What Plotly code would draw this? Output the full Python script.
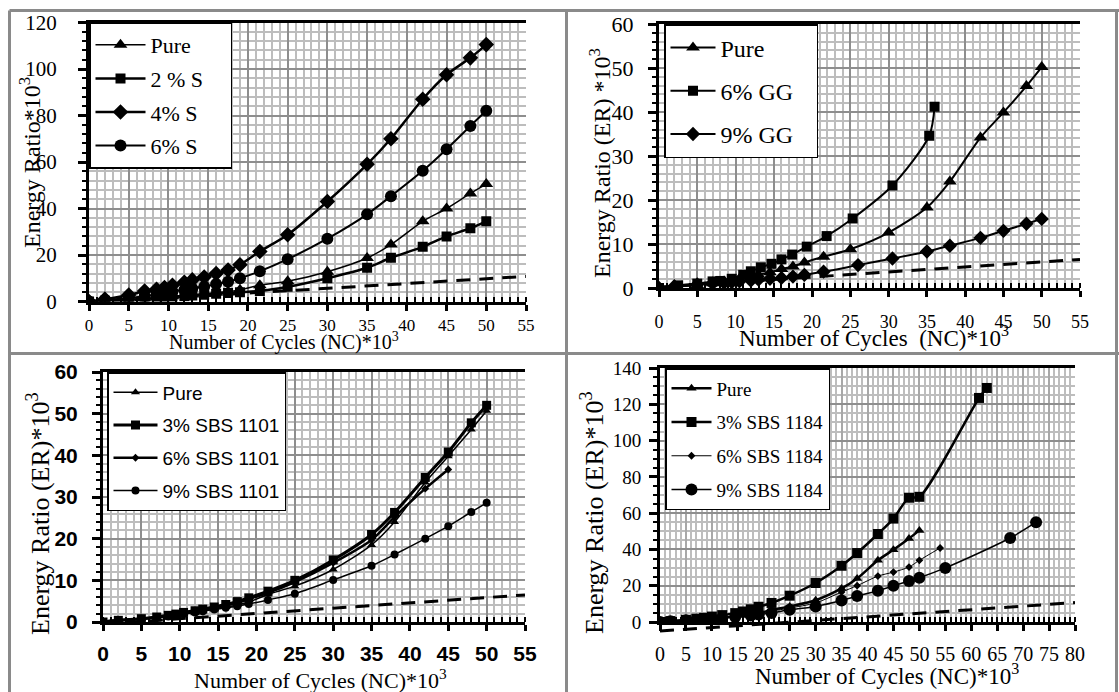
import plotly.graph_objects as go

W, H = 1119, 692
SERIF = "Liberation Serif, Times New Roman, serif"
SANS_N = "Liberation Sans Narrow, Liberation Sans, Arial, sans-serif"
SANS = "Liberation Sans, Arial, sans-serif"
PAD = "\u00a0"

# ---------------- data ----------------
# Panel 1 : Sulfur
p1_x = [0, 2, 5, 7, 8.5, 9.5, 10.5, 12, 13, 14.5, 16, 17.5, 19, 21.5, 25, 30, 35, 38, 42, 45, 48, 50]
p1_pure = [0, 0.3, 0.8, 1.3, 1.7, 2.0, 2.3, 2.7, 3.0, 3.3, 3.8, 4.3, 5.0, 7.0, 8.7, 12.8, 18.7, 24.5, 34.5, 40.0, 46.5, 50.5]
p1_s2 = [0, 0.3, 0.7, 1.1, 1.4, 1.7, 2.0, 2.3, 2.6, 2.9, 3.3, 3.7, 4.0, 4.5, 6.3, 10.0, 14.5, 18.8, 23.5, 28.0, 31.5, 34.5]
p1_s4 = [0, 1.0, 2.8, 4.5, 5.3, 6.0, 7.0, 8.3, 9.3, 10.5, 12.0, 13.5, 15.8, 21.5, 28.7, 43.0, 59.0, 70.0, 87.0, 97.5, 104.8, 110.5]
p1_s6 = [0, 0.6, 1.5, 2.3, 3.0, 3.6, 4.3, 5.0, 5.6, 6.4, 7.5, 8.5, 10.0, 13.0, 18.2, 27.0, 37.5, 45.3, 56.2, 65.5, 75.5, 82.0]
p1_trend_x = [0, 55]
p1_trend_y = [-0.5, 10.8]

# Panel 2 : Guar gum
p2_x = [0, 2, 5, 7, 8.5, 9.5, 10.5, 12, 13, 14.5, 16, 17.5, 19, 21.5, 25, 30, 35, 38, 42, 45, 48, 50]
p2_pure = [0, 0.3, 0.7, 1.1, 1.4, 1.7, 2.1, 2.6, 3.0, 3.6, 4.3, 4.9, 5.8, 7.1, 8.8, 12.6, 18.3, 24.2, 34.2, 39.9, 45.9, 50.2]
p2_gg6_x = [0, 2.5, 5, 7, 8, 9.5, 11, 12, 13.3, 14.7, 16, 17.4, 19.3, 21.9, 25.3, 30.5, 35.3, 36]
p2_gg6 = [0, 0.6, 1.0, 1.5, 1.6, 2.1, 3.0, 3.8, 4.7, 5.5, 6.5, 7.6, 9.4, 11.8, 15.8, 23.3, 34.6, 41.2]
p2_gg9_x = [0, 2, 5, 7, 8.5, 9.5, 10.5, 12, 13, 14.5, 16, 17.5, 19, 21.5, 26, 30.5, 35, 38, 42, 45, 48, 50]
p2_gg9 = [0, 0.4, 0.8, 1.0, 1.2, 1.3, 1.5, 1.7, 1.9, 2.1, 2.3, 2.6, 3.0, 3.7, 5.2, 6.7, 8.3, 9.6, 11.4, 13.0, 14.6, 15.7]
p2_trend_x = [0, 55]
p2_trend_y = [0.2, 6.5]

# Panel 3 : SBS 1101
p3_x = [0, 2, 5, 7, 8.5, 9.5, 10.5, 12, 13, 14.5, 16, 17.5, 19, 21.5, 25, 30, 35, 38, 42, 45, 48, 50]
p3_pure = [0, 0.3, 0.7, 1.1, 1.4, 1.7, 2.0, 2.4, 2.8, 3.2, 3.6, 4.1, 4.8, 6.6, 8.6, 12.6, 18.5, 24.0, 33.5, 39.8, 46.2, 50.7]
p3_sbs3 = [0, 0.4, 0.8, 1.2, 1.6, 1.9, 2.3, 2.7, 3.1, 3.6, 4.2, 4.9, 5.8, 7.4, 10.0, 14.9, 21.0, 26.3, 34.7, 40.8, 47.8, 52.0]
p3_sbs6_x = [0, 2, 5, 7, 8.5, 9.5, 10.5, 12, 13, 14.5, 16, 17.5, 19, 21.5, 25, 30, 35, 38, 42, 45]
p3_sbs6 = [0, 0.4, 0.8, 1.2, 1.5, 1.8, 2.2, 2.6, 3.0, 3.5, 4.0, 4.6, 5.5, 7.0, 9.6, 14.2, 19.7, 25.2, 32.0, 36.6]
p3_sbs9 = [0, 0.3, 0.7, 1.0, 1.3, 1.6, 1.9, 2.3, 2.6, 3.0, 3.4, 3.8, 4.3, 5.3, 6.8, 10.1, 13.5, 16.2, 20.0, 23.0, 26.4, 28.6]
p3_trend_x = [0, 55]
p3_trend_y = [-0.5, 6.5]

# Panel 4 : SBS 1184
p4_pure_x = [0, 2, 5, 7, 8.5, 10, 12, 14.5, 16, 17.5, 19, 21.5, 25, 30, 35, 38, 42, 45, 48, 50]
p4_pure = [0, 0.3, 0.7, 1.1, 1.4, 1.9, 2.4, 3.2, 3.6, 4.1, 4.8, 6.6, 8.6, 12.0, 18.5, 24.0, 34.0, 39.8, 46.0, 50.5]
p4_sbs3_x = [0, 2, 5, 7, 8.5, 10, 12, 14.5, 16, 17.5, 19, 21.5, 25, 30, 35, 38, 42, 45, 48, 50, 61.5, 63]
p4_sbs3 = [0, 0.5, 1.2, 1.8, 2.3, 3.0, 3.8, 4.9, 5.8, 7.0, 8.4, 10.5, 14.5, 21.5, 31.0, 38.0, 48.5, 57.0, 68.5, 69.0, 123.5, 129.0]
p4_sbs6_x = [0, 2, 5, 7, 10, 12, 14.5, 17.5, 19, 21.5, 25, 30, 35, 38, 42, 45, 48, 50, 54]
p4_sbs6 = [0, 0.4, 1.0, 1.4, 2.0, 2.5, 3.5, 4.5, 5.0, 6.0, 7.7, 10.5, 16.5, 20.0, 25.3, 27.5, 30.3, 34.0, 40.8]
p4_sbs9_x = [0, 2, 5, 7, 10, 12, 14.5, 17.5, 19, 21.5, 25, 30, 35, 38, 42, 45, 48, 50, 55, 67.5, 72.5]
p4_sbs9 = [0, 0.4, 0.9, 1.3, 1.8, 2.2, 2.8, 3.6, 4.1, 5.0, 6.7, 8.6, 11.8, 14.3, 17.2, 20.0, 22.6, 24.4, 29.8, 46.3, 55.0]
p4_trend_x = [0, 80]
p4_trend_y = [-5.0, 10.7]

# ---------------- layout helpers (pixel geometry) ----------------
def xd(a, b):
    return [a / W, b / W]

def yd(top, bottom):
    return [1 - bottom / H, 1 - top / H]

MAJOR_GRID = "#8e8e8e"
MINOR_GRID = "#bdbdbd"

def xaxis(dom, rng, dtick, minor, font, anchor, standoff, gridcolor=MAJOR_GRID):
    return dict(domain=dom, range=rng, dtick=dtick, tick0=0, showgrid=True,
                gridcolor=gridcolor, gridwidth=1.5, zeroline=False, anchor=anchor,
                showline=True, linecolor="black", linewidth=3, mirror=True,
                ticks="outside", ticklen=6, tickwidth=3, tickcolor="black", tickangle=0,
                ticklabelstandoff=standoff, tickfont=font, automargin=False,
                minor=dict(dtick=minor, showgrid=True, gridcolor=MINOR_GRID, gridwidth=1.5,
                           ticks="inside", ticklen=5, tickwidth=2, tickcolor="black"),
                fixedrange=True)

def yaxis(dom, rng, dtick, minor, font, anchor, standoff):
    return dict(domain=dom, range=rng, dtick=dtick, tick0=0, showgrid=True,
                gridcolor=MAJOR_GRID, gridwidth=1.5, zeroline=False,
                showline=True, linecolor="black", linewidth=3, mirror=False,
                ticks="outside", ticklen=8, tickwidth=3, tickcolor="black",
                ticklabelstandoff=standoff, tickfont=font, anchor=anchor, automargin=False,
                minor=dict(dtick=minor, showgrid=True, gridcolor=MINOR_GRID, gridwidth=1.5,
                           ticks="outside", ticklen=4, tickwidth=2, tickcolor="black"),
                fixedrange=True)

fig = go.Figure()

def series(x, y, name, sym, size, lw, xa, ya, leg, pad=0):
    fig.add_trace(go.Scatter(
        x=x, y=y, name=name + PAD * pad, mode="lines+markers", xaxis=xa, yaxis=ya,
        legend=leg, legendgroup=leg + name,
        line=dict(color="black", width=lw, shape="spline", smoothing=0.8),
        marker=dict(symbol=sym, size=size, color="black")))

def trend(x, y, xa, ya):
    fig.add_trace(go.Scatter(
        x=x, y=y, mode="lines", xaxis=xa, yaxis=ya, showlegend=False,
        line=dict(color="black", width=3, dash="14px,9px"), hoverinfo="skip"))

# panel 1
trend(p1_trend_x, p1_trend_y, "x", "y")
series(p1_x, p1_pure, "Pure", "triangle-up", 12, 1.5, "x", "y", "legend")
series(p1_x, p1_s2, "2 % S", "square", 10, 2.5, "x", "y", "legend", pad=4)
series(p1_x, p1_s4, "4% S", "diamond", 12, 2.5, "x", "y", "legend")
series(p1_x, p1_s6, "6% S", "circle", 12, 2, "x", "y", "legend")

# panel 2
trend(p2_trend_x, p2_trend_y, "x2", "y2")
series(p2_x, p2_pure, "Pure", "triangle-up", 12, 2, "x2", "y2", "legend2")
series(p2_gg6_x, p2_gg6, "6% GG", "square", 10, 2, "x2", "y2", "legend2", pad=3)
series(p2_gg9_x, p2_gg9, "9% GG", "diamond", 11, 2, "x2", "y2", "legend2")

# panel 3
trend(p3_trend_x, p3_trend_y, "x3", "y3")
series(p3_x, p3_pure, "Pure", "triangle-up", 8, 1.5, "x3", "y3", "legend3")
series(p3_x, p3_sbs3, "3% SBS 1101", "square", 9, 3, "x3", "y3", "legend3")
series(p3_sbs6_x, p3_sbs6, "6% SBS 1101", "diamond", 6, 2.5, "x3", "y3", "legend3")
series(p3_x, p3_sbs9, "9% SBS 1101", "circle", 8, 1.5, "x3", "y3", "legend3")

# panel 4
series(p4_pure_x, p4_pure, "Pure", "triangle-up", 9, 2.5, "x4", "y4", "legend4")
series(p4_sbs3_x, p4_sbs3, "3% SBS 1184", "square", 10, 2.5, "x4", "y4", "legend4")
series(p4_sbs6_x, p4_sbs6, "6% SBS 1184", "diamond", 6, 1, "x4", "y4", "legend4")
series(p4_sbs9_x, p4_sbs9, "9% SBS 1184", "circle", 12, 1.5, "x4", "y4", "legend4")
trend(p4_trend_x, p4_trend_y, "x5", "y5")

f_serif = lambda s: dict(family=SERIF, size=s, color="black")
f_bold = lambda s: dict(family=SANS, size=s, color="black", weight="bold")

# pixel geometry of plot areas
P1 = dict(l=89, r=526, t=22.5, b=301.5)
P2 = dict(l=659, r=1080, t=24, b=288)
P3 = dict(l=103, r=525, t=372, b=622)
P4 = dict(l=660, r=1075, t=368, b=622)
P5_bottom = 640
y5_low = -140 * (P5_bottom - P4["b"]) / (P4["b"] - P4["t"])

fig.update_layout(
    width=W, height=H, margin=dict(l=0, r=0, t=0, b=0, autoexpand=False),
    paper_bgcolor="white", plot_bgcolor="rgba(0,0,0,0)", showlegend=True,
    xaxis=xaxis(xd(P1["l"], P1["r"]), [0, 55], 5, 1, f_serif(17), "y", 0),
    yaxis=yaxis(yd(P1["t"], P1["b"]), [0, 120], 20, 4, f_serif(21), "x", 17),
    xaxis2=xaxis(xd(P2["l"], P2["r"]), [0, 55], 5, 1, f_serif(18), "y2", 9),
    yaxis2=yaxis(yd(P2["t"], P2["b"]), [0, 60], 10, 2, f_serif(22), "x2", 10),
    xaxis3=xaxis(xd(P3["l"], P3["r"]), [0, 55], 5, 1, f_bold(21), "y3", 5),
    yaxis3=yaxis(yd(P3["t"], P3["b"]), [0, 60], 10, 2, f_bold(21), "x3", 10),
    xaxis4=xaxis(xd(P4["l"], P4["r"]), [0, 80], 5, 1, f_serif(20), "y4", 6, gridcolor="#a8a8a8"),
    yaxis4=yaxis(yd(P4["t"], P4["b"]), [0, 140], 20, 5, f_serif(19), "x4", 4),
    # darker vertical grid every 15 units in panel 4
    xaxis6=dict(overlaying="x4", anchor="y4", range=[0, 80], dtick=15, tick0=0,
                showgrid=True, gridcolor=MAJOR_GRID, gridwidth=2, showticklabels=False,
                ticks="", showline=False, zeroline=False, fixedrange=True),
    xaxis5=dict(domain=xd(P4["l"], P4["r"]), range=[0, 80], visible=False, anchor="y5", fixedrange=True),
    yaxis5=dict(domain=yd(P4["t"], P5_bottom), range=[y5_low, 140], visible=False, anchor="x5", fixedrange=True),
)

def legend(px, py, font, gap, iw):
    return dict(x=px / W, y=1 - py / H, xanchor="left", yanchor="top",
                bgcolor="white", bordercolor="black", borderwidth=1.5,
                font=font, tracegroupgap=gap, itemsizing="trace", itemwidth=iw)

fig.update_layout(
    legend=legend(89, 22.5, f_serif(22), 2, 50),
    legend2=legend(664, 24, f_serif(24), 9, 45),
    legend3=legend(107, 372, dict(family=SANS_N, size=19, color="black"), 5, 44),
    legend4=legend(665, 368, f_serif(19), 6, 40),
)

ann = []
def title_x(text, cx, cy, size):
    ann.append(dict(text=text, x=cx / W, y=1 - cy / H, xref="paper", yref="paper",
                    showarrow=False, font=f_serif(size), xanchor="center", yanchor="middle"))

def title_y(text, cx, cy, size):
    ann.append(dict(text=text, x=cx / W, y=1 - cy / H, xref="paper", yref="paper",
                    showarrow=False, font=f_serif(size), textangle=-90,
                    xanchor="center", yanchor="middle"))

title_x("Number of Cycles (NC)*10<sup>3</sup>", 284, 341, 20)
title_y("Energy Ratio*10<sup>3</sup>", 30, 163, 24)
title_x("Number of Cycles  (NC)*10<sup>3</sup>", 874, 337, 23)
title_y("Energy Ratio (ER) *10<sup>3</sup>", 600, 163, 24)
title_x("Number of Cycles (NC)*10<sup>3</sup>", 320, 679, 22)
title_y("Energy Ratio (ER)*10<sup>3</sup>", 38, 514, 26)
title_x("Number of Cycles (NC)*10<sup>3</sup>", 887, 674, 23)
title_y("Energy Ratio (ER)*10<sup>3</sup>", 592, 512, 26)
fig.update_layout(annotations=ann)

# table borders
BORDER = "#8a8a8a"
shapes = []
def line(x0, y0, x1, y1):
    shapes.append(dict(type="line", xref="paper", yref="paper",
                       x0=x0 / W, y0=1 - y0 / H, x1=x1 / W, y1=1 - y1 / H,
                       line=dict(color=BORDER, width=3), layer="above"))
line(9.5, 10.5, 1119, 10.5)
line(9.5, 10.5, 9.5, 692)
line(566.5, 10.5, 566.5, 692)
line(9.5, 353.5, 1119, 353.5)
line(1116.5, 10.5, 1116.5, 692)
fig.update_layout(shapes=shapes)

fig.write_html("out.html")
